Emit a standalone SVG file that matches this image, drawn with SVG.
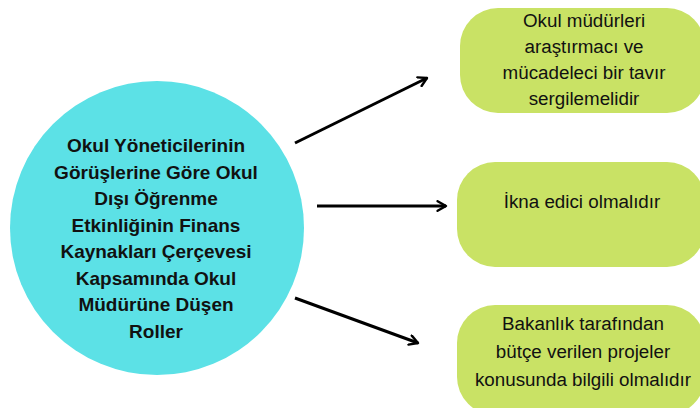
<svg xmlns="http://www.w3.org/2000/svg" width="700" height="408" viewBox="0 0 700 408">
<style>
.c{fill:#5CE1E6}
.b{fill:#C9E265}
.t{font-family:"Liberation Sans",Arial,sans-serif;fill:#111;text-anchor:middle}
.ct{font-size:19px;font-weight:bold}
.bt{font-size:18.8px}
.a{stroke:#000;stroke-width:3;fill:none;marker-end:url(#ah)}
</style>
<defs>
<marker id="ah" viewBox="0 0 10 10" refX="8" refY="5" markerWidth="4" markerHeight="4" orient="auto" markerUnits="strokeWidth">
<path d="M1,1 L8,5 L1,9" fill="none" stroke="#000" stroke-width="2" stroke-linecap="round" stroke-linejoin="round"/>
</marker>
</defs>
<rect width="700" height="408" fill="#fff"/>
<g id="center">
<circle class="c" cx="157" cy="228" r="147"/>
<text class="t ct"><tspan x="156" y="152">Okul Yöneticilerinin</tspan><tspan x="156" y="178.5">Görüşlerine Göre Okul</tspan><tspan x="156" y="205">Dışı Öğrenme</tspan><tspan x="156" y="231.5">Etkinliğinin Finans</tspan><tspan x="156" y="258">Kaynakları Çerçevesi</tspan><tspan x="156" y="284.5">Kapsamında Okul</tspan><tspan x="156" y="311">Müdürüne Düşen</tspan><tspan x="156" y="337.5">Roller</tspan></text>
</g>
<g id="box1">
<rect class="b" x="460" y="8" width="245" height="105" rx="38"/>
<text class="t bt"><tspan x="584" y="27">Okul müdürleri</tspan><tspan x="584" y="53">araştırmacı ve</tspan><tspan x="584" y="79">mücadeleci bir tavır</tspan><tspan x="584" y="105">sergilemelidir</tspan></text>
</g>
<g id="box2">
<rect class="b" x="457" y="162" width="248" height="105" rx="38"/>
<text class="t bt" x="582" y="208">İkna edici olmalıdır</text>
</g>
<g id="box3">
<rect class="b" x="457" y="305" width="248" height="110" rx="38"/>
<text class="t bt"><tspan x="583" y="330">Bakanlık tarafından</tspan><tspan x="583" y="358">bütçe verilen projeler</tspan><tspan x="583" y="386">konusunda bilgili olmalıdır</tspan></text>
</g>
<g id="connectors">
<line class="a" x1="295" y1="143" x2="427" y2="78"/>
<line class="a" x1="317" y1="206" x2="446" y2="206"/>
<line class="a" x1="295" y1="298" x2="418" y2="343"/>
</g>
</svg>
